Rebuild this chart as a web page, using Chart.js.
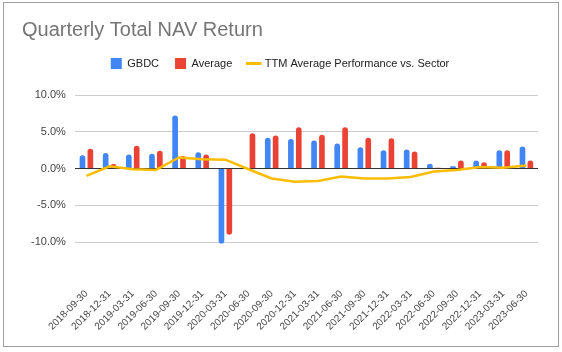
<!DOCTYPE html>
<html>
<head>
<meta charset="utf-8">
<script src="https://cdn.jsdelivr.net/npm/chart.js@4"></script>
<style>
  html, body { margin: 0; padding: 0; background: #fff; }
  #wrap { width: 562px; height: 352px; }
</style>
</head>
<body>
<div id="wrap"><canvas id="chart" width="562" height="352"></canvas></div>
<script>
// quarter end dates
const quarters = [
  "2018-09-30", "2018-12-31", "2019-03-31", "2019-06-30", "2019-09-30",
  "2019-12-31", "2020-03-31", "2020-06-30", "2020-09-30", "2020-12-31",
  "2021-03-31", "2021-06-30", "2021-09-30", "2021-12-31", "2022-03-31",
  "2022-06-30", "2022-09-30", "2022-12-31", "2023-03-31", "2023-06-30",
];

// quarterly NAV return, %
const gbdc = [1.8, 2.1, 1.9, 2.0, 7.2, 2.2, -10.2, 0.1, 4.2, 4.0, 3.8, 3.4, 2.9, 2.5, 2.6, 0.6, 0.3, 1.1, 2.5, 3.0];
const average = [2.7, 0.6, 3.1, 2.4, 1.7, 1.9, -9.0, 4.8, 4.5, 5.6, 4.6, 5.6, 4.2, 4.1, 2.3, 0.1, 1.1, 0.85, 2.5, 1.1];
const ttmVsSector = [-1.0, 0.3, -0.1, -0.2, 1.5, 1.25, 1.2, -0.1, -1.35, -1.8, -1.7, -1.1, -1.35, -1.35, -1.15, -0.4, -0.2, 0.2, 0.1, 0.4];

const yTicks = [-10, -5, 0, 5, 10];

const FONT = "'Liberation Sans', Arial, sans-serif";

// extra room under the legend
const legendGap = {
  id: "legendGap",
  beforeInit(chart) {
    const fit = chart.legend.fit;
    chart.legend.fit = function () {
      fit.call(this);
      this.height += 16;
    };
  },
};

// thin grey frame round the whole chart
const frame = {
  id: "frame",
  afterDraw(chart) {
    const ctx = chart.ctx;
    ctx.save();
    ctx.strokeStyle = "#9e9e9e";
    ctx.lineWidth = 1;
    ctx.strokeRect(3.5, 2.5, 555, 344);
    ctx.restore();
  },
};

const ctx = document.getElementById("chart").getContext("2d");
new Chart(ctx, {
  data: {
    labels: quarters,
    datasets: [
      {
        type: "line",
        label: "TTM Average Performance vs. Sector",
        data: ttmVsSector,
        borderColor: "#fbbc04",
        backgroundColor: "#fbbc04",
        borderWidth: 2.5,
        pointRadius: 0,
        tension: 0,
        order: 0,
      },
      {
        type: "bar",
        label: "GBDC",
        data: gbdc,
        backgroundColor: "#4285f4",
        borderRadius: 3,
        categoryPercentage: 0.68,
        barPercentage: 0.72,
        clip: false,
        order: 1,
      },
      {
        type: "bar",
        label: "Average",
        data: average,
        backgroundColor: "#ea4335",
        borderRadius: 3,
        categoryPercentage: 0.68,
        barPercentage: 0.72,
        clip: false,
        order: 1,
      },
    ],
  },
  options: {
    responsive: false,
    animation: false,
    layout: { padding: { left: 22, right: 24, top: 4, bottom: 10 } },
    plugins: {
      title: {
        display: true,
        text: "Quarterly Total NAV Return",
        align: "start",
        color: "#757575",
        font: { family: FONT, size: 20, weight: "normal" },
        padding: { top: 14, bottom: 0 },
      },
      legend: {
        display: true,
        position: "top",
        labels: {
          usePointStyle: true,
          boxWidth: 11,
          boxHeight: 11,
          padding: 16,
          color: "#222",
          font: { family: FONT, size: 11 },
          generateLabels(chart) {
            const items = Chart.defaults.plugins.legend.labels.generateLabels(chart);
            items.forEach((it) => {
              const ds = chart.data.datasets[it.datasetIndex];
              if (ds.type === "line") {
                it.pointStyle = "line";
                it.lineWidth = 3;
                it.strokeStyle = ds.borderColor;
              } else {
                it.pointStyle = "rect";
                it.lineWidth = 0;
              }
            });
            // bars first, then the line
            return items.sort((a, b) => (a.pointStyle === "line") - (b.pointStyle === "line") || a.datasetIndex - b.datasetIndex);
          },
        },
      },
      tooltip: { enabled: false },
    },
    scales: {
      x: {
        grid: { display: false, drawTicks: false },
        border: { display: false },
        afterFit(scale) {
          scale.height = 100;
          scale.paddingLeft = 0;
          scale.paddingRight = 0;
        },
        ticks: {
          autoSkip: false,
          maxRotation: 45,
          minRotation: 45,
          padding: 46,
          color: "#444",
          font: { family: FONT, size: 10 },
        },
      },
      y: {
        min: -10,
        max: 10,
        border: { display: false },
        grid: {
          drawTicks: false,
          color: (c) => (c.tick && c.tick.value === 0 ? "#333" : "#cccccc"),
        },
        afterBuildTicks(scale) {
          scale.ticks = yTicks.map((v) => ({ value: v }));
        },
        ticks: {
          padding: 9,
          color: "#444",
          font: { family: FONT, size: 11 },
          callback: (v) => v.toFixed(1) + "%",
        },
      },
    },
  },
  plugins: [legendGap, frame],
});
</script>
</body>
</html>
